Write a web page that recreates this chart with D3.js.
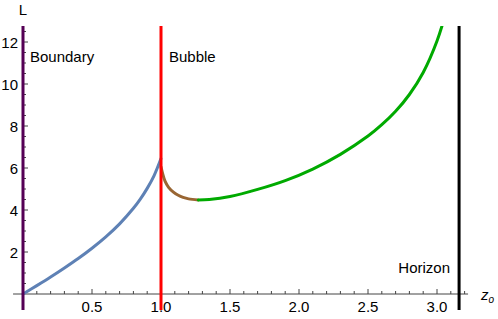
<!DOCTYPE html>
<html>
<head>
<meta charset="utf-8">
<script src="https://cdn.jsdelivr.net/npm/d3@7"></script>
<style>
  body { margin: 0; background: #fff; }
  svg text { font-family: "Liberation Sans", Arial, sans-serif; fill: #000; }
</style>
</head>
<body>
<svg id="chart" width="498" height="319"></svg>
<script>
// curve samples: [z_o, L]
const blueCurve = [[0, 0], [0.1, 0.4], [0.2, 0.81], [0.3, 1.24], [0.4, 1.69], [0.5, 2.18],
    [0.6, 2.72], [0.7, 3.34], [0.8, 4.08], [0.85, 4.52], [0.9, 5.03], [0.95, 5.64], [1.0, 6.45]];
const brownCurve = [[1.0, 6.05], [1.01, 5.78], [1.03, 5.36], [1.055, 5.08], [1.09, 4.85],
    [1.125, 4.7], [1.16, 4.6], [1.2, 4.53], [1.27, 4.48]];
const greenCurve = [[1.27, 4.48], [1.35, 4.5], [1.5, 4.64], [1.7, 4.98], [1.9, 5.4],
    [2.1, 5.95], [2.3, 6.65], [2.5, 7.52], [2.6, 8.06], [2.7, 8.7], [2.8, 9.5],
    [2.9, 10.55], [3.0, 12.05], [3.06, 13.3]];

// vertical markers
const walls = [
    {name: "Boundary", z: 0, color: "#550055"},
    {name: "Bubble", z: 1, color: "#ff0000"},
    {name: "Horizon", z: 3.16, color: "#000000"}
];

const xMajor = [0.5, 1.0, 1.5, 2.0, 2.5, 3.0];
const yMajor = [2, 4, 6, 8, 10, 12];

const svg = d3.select("#chart");

const x = d3.scaleLinear().domain([0, 3]).range([23, 437]);
const y = d3.scaleLinear().domain([0, 12]).range([294, 42]);

const xMin = -0.072, xMax = 3.225;
const yMin = -0.76, yMax = 12.76;

svg.append("defs").append("clipPath").attr("id", "plotClip")
    .append("rect")
    .attr("x", x(xMin)).attr("y", y(yMax))
    .attr("width", x(xMax) - x(xMin)).attr("height", y(yMin) - y(yMax));

// x axis line
svg.append("line")
    .attr("x1", x(xMin)).attr("x2", x(xMax))
    .attr("y1", y(0)).attr("y2", y(0))
    .attr("stroke", "#444").attr("stroke-width", 1);

// x ticks (minor every 0.1, major every 0.5)
const xTicks = d3.range(1, 33).map(d => d / 10);
svg.append("g").selectAll("line")
    .data(xTicks)
    .enter().append("line")
    .attr("x1", d => x(d)).attr("x2", d => x(d))
    .attr("y1", y(0))
    .attr("y2", d => y(0) - (Math.abs(d * 2 - Math.round(d * 2)) < 1e-6 ? 5 : 3))
    .attr("stroke", "#444").attr("stroke-width", 1);

svg.append("g").selectAll("text")
    .data(xMajor)
    .enter().append("text")
    .attr("x", d => x(d)).attr("y", 312)
    .attr("text-anchor", "middle")
    .style("font-size", "15px")
    .text(d => d.toFixed(1));

// y ticks (minor every 0.5, major every 2)
const yTicks = d3.range(1, 26).map(d => d / 2);
svg.append("g").selectAll("line")
    .data(yTicks)
    .enter().append("line")
    .attr("x1", x(0)).attr("x2", d => x(0) + (d % 2 === 0 ? 5 : 3))
    .attr("y1", d => y(d)).attr("y2", d => y(d))
    .attr("stroke", "#444").attr("stroke-width", 1);

svg.append("g").selectAll("text")
    .data(yMajor)
    .enter().append("text")
    .attr("x", 18).attr("y", d => y(d) + 5.5)
    .attr("text-anchor", "end")
    .style("font-size", "15px")
    .text(d => d);

// axis labels
svg.append("text")
    .attr("x", x(0)).attr("y", 15)
    .attr("text-anchor", "middle")
    .style("font-size", "15px")
    .text("L");

const zLabel = svg.append("text")
    .attr("x", 481).attr("y", 300)
    .style("font-size", "15px");
zLabel.append("tspan").style("font-style", "italic").text("z");
zLabel.append("tspan").attr("dy", 3).style("font-size", "10px").style("font-style", "italic").text("o");

// curves
const line = d3.line()
    .x(d => x(d[0]))
    .y(d => y(d[1]))
    .curve(d3.curveCatmullRom.alpha(0.5));

const curves = svg.append("g").attr("clip-path", "url(#plotClip)");
[[blueCurve, "#5e81b5"], [brownCurve, "#996633"], [greenCurve, "#00aa00"]].forEach(function(c) {
    curves.append("path")
        .datum(c[0])
        .attr("d", line)
        .attr("fill", "none")
        .attr("stroke", c[1])
        .attr("stroke-width", 3)
        .attr("stroke-linecap", "round");
});

// vertical lines
svg.append("g").selectAll("line")
    .data(walls)
    .enter().append("line")
    .attr("x1", d => x(d.z)).attr("x2", d => x(d.z))
    .attr("y1", y(yMax)).attr("y2", y(yMin))
    .attr("stroke", d => d.color)
    .attr("stroke-width", 3);

// wall labels
svg.append("text").attr("x", 30).attr("y", 62).style("font-size", "15px").text("Boundary");
svg.append("text").attr("x", 169).attr("y", 62).style("font-size", "15px").text("Bubble");
svg.append("text").attr("x", 450).attr("y", 273).attr("text-anchor", "end")
    .style("font-size", "15px").text("Horizon");
</script>
</body>
</html>
